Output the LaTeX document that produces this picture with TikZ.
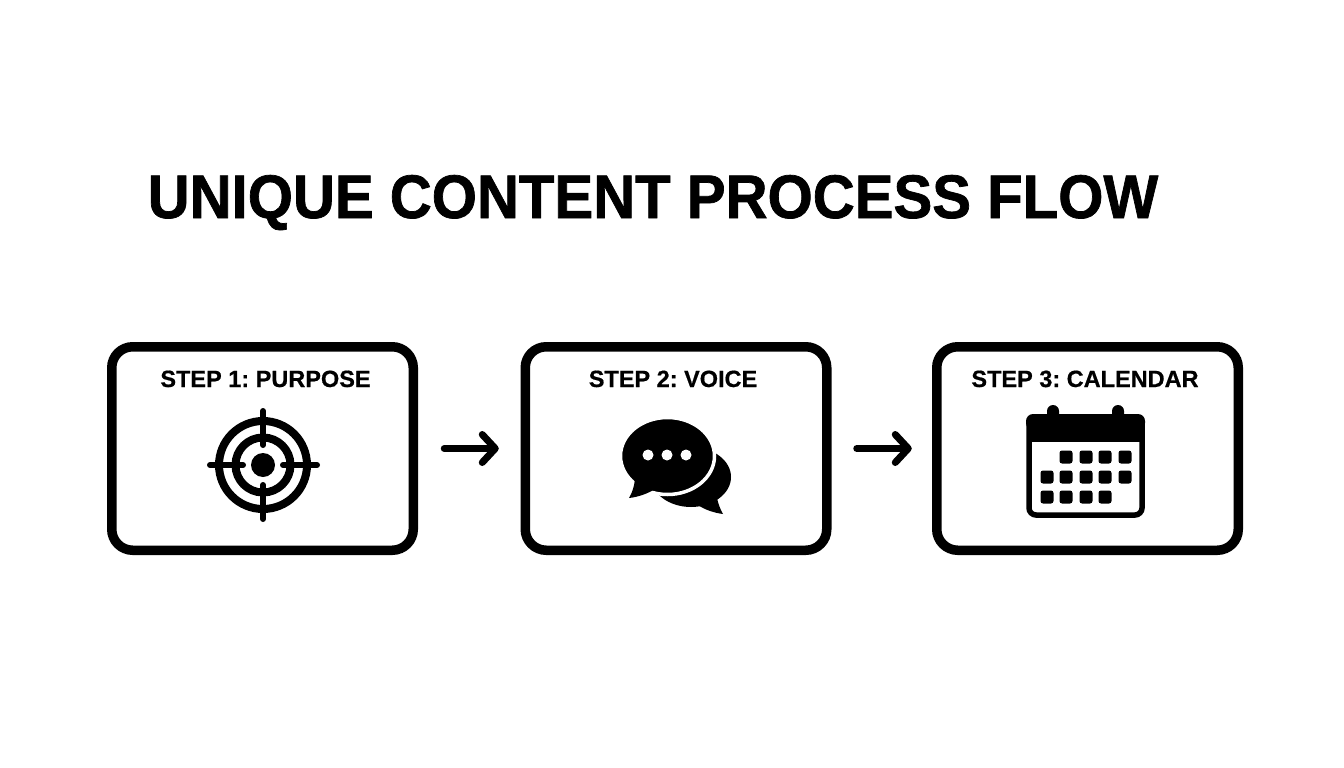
\documentclass[tikz,border=0pt]{standalone}
\usepackage{fontspec}
\setmainfont{Liberation Sans}
\newfontface\heavyface[FakeBold=1.2]{Liberation Sans Bold}
\newfontface\labelface[FakeBold=0.6]{Liberation Sans Bold}
\usetikzlibrary{arrows.meta}
\tikzset{
  stepbox/.style={draw=black,line width=9.5pt,rounded corners=21pt,minimum width=301.5pt,minimum height=203.5pt,outer sep=0pt,inner sep=0pt},
  steplabel/.style={font=\labelface\fontsize{23.5}{24}\selectfont,inner sep=0pt,anchor=base},
  flowarrow/.style={line width=7pt,line cap=round,-{Straight Barb[length=13pt,width=28pt,line width=7pt,round]},shorten <=31pt,shorten >=26.5pt},
  ring/.style={line width=8pt},
  hair/.style={line width=6pt,line cap=round},
  daybox/.style={fill=black,rounded corners=2.5pt}
}
\frenchspacing
\begin{document}
\begin{tikzpicture}[x=1pt,y=-1pt]
   \useasboundingbox (0,0) rectangle (1344,768);
   \node[inner sep=0pt,xscale=0.945,anchor=base,font=\heavyface\fontsize{61.5}{62}\selectfont] (title) at (653,218) {UNIQUE CONTENT PROCESS FLOW};
   \node[stepbox] (purpose) at (262.5,448.5) {};
   \node[stepbox] (voice) at (676,448.5) {};
   \node[stepbox] (calendar) at (1087.5,448.5) {};
   \node[steplabel] (purposelabel) at (265.5,387) {STEP 1: PURPOSE};
   \node[steplabel] (voicelabel) at (673,387) {STEP 2: VOICE};
   \node[steplabel] (calendarlabel) at (1085,387) {STEP 3: CALENDAR};
   \draw[flowarrow] (purpose) -- (voice);
   \draw[flowarrow,shorten <=30pt,shorten >=25pt] (voice) -- (calendar);
   % target
   \draw[ring] (263,465) circle (44);
   \draw[ring] (263,465) circle (27.5);
   \fill (263,465) circle (12);
   \draw[hair] (210,465) -- (243,465);
   \draw[hair] (283,465) -- (317,465);
   \draw[hair] (263,411) -- (263,445);
   \draw[hair] (263,485) -- (263,519);
   % speech bubbles
   \fill (691,477) ellipse [x radius=40,y radius=30];
   \fill (698,505) .. controls (705,510) and (715,513) .. (723,514) .. controls (719,507) and (716,498) .. (716,488) -- cycle;
   \draw[white,line width=3.5pt,fill=black] (667.5,456) ellipse [x radius=47,y radius=38.5];
   \fill (635,476) .. controls (635,485) and (632,493) .. (629,498) .. controls (638,497) and (647,494) .. (655,489) -- (660,480) -- cycle;
   \foreach \x in {648,667,686}
      \fill[white] (\x,455) circle (5.5);
   % calendar
   \fill (1053,411) circle (6) (1118,411) circle (6);
   \fill (1047,411) rectangle (1059,420) (1112,411) rectangle (1124,420);
   \draw[line width=5.5pt,rounded corners=7pt] (1029,417) rectangle (1142,515);
   \fill (1029,417) rectangle (1142,442);
   \fill[rounded corners=7pt] (1026,414) rectangle (1145,430);
   \foreach \x in {1066,1086,1105,1125}
      \fill[daybox] (\x-6.5,450.5) rectangle ++(13,13);
   \foreach \x in {1047,1066,1086,1105,1125}
      \fill[daybox] (\x-6.5,470.5) rectangle ++(13,13);
   \foreach \x in {1047,1066,1086,1105}
      \fill[daybox] (\x-6.5,490.5) rectangle ++(13,13);
\end{tikzpicture}
\end{document}
